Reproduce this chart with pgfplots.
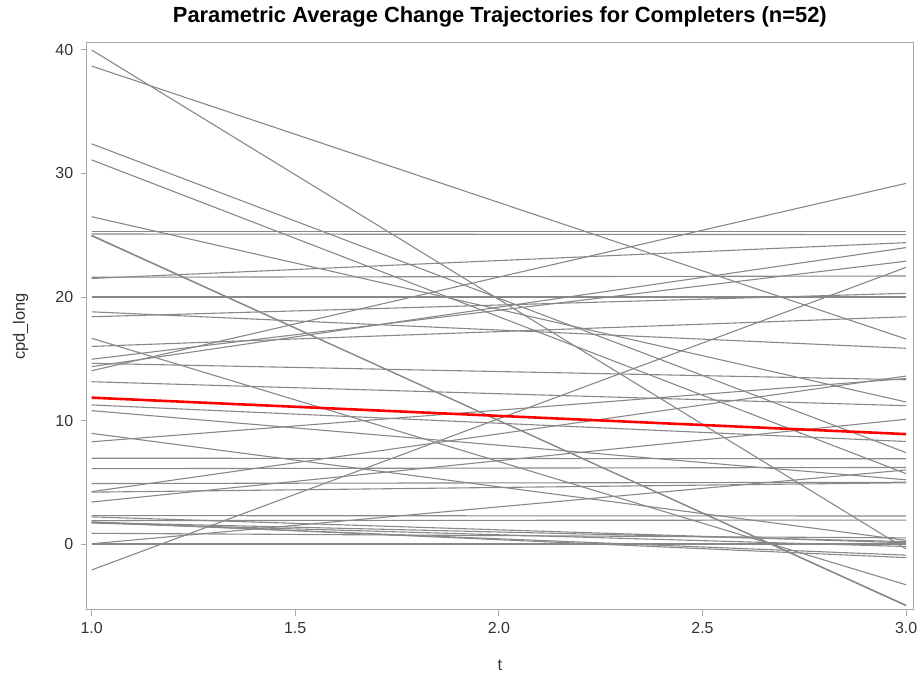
\documentclass[border=0pt]{standalone}
\usepackage{fontspec}
\setmainfont{Liberation Sans}
\usepackage{pgfplots}
\pgfplotsset{compat=1.18}
\definecolor{Traj}{HTML}{888888}
\definecolor{Frame}{HTML}{A8A8A8}
\definecolor{Mean}{HTML}{FF0000}
\definecolor{Ink}{HTML}{333333}
\pgfplotsset{traj/.style={Traj,line width=1.1bp,no marks}}
\begin{document}
\begin{tikzpicture}[x=1bp,y=1bp]
\useasboundingbox (0,0) rectangle (922,683);
\begin{axis}[at={(86.7bp,73bp)},anchor=south west,scale only axis,width=826.3bp,height=567.3bp,
  xmin=0.988,xmax=3.017,ymin=-5.34,ymax=40.59,
  xtick={1,1.5,2,2.5,3},xticklabels={1.0,1.5,2.0,2.5,3.0},
  ytick={0,10,20,30,40},
  /pgf/number format/assume math mode=true,
  tick align=outside,major tick length=6bp,tick pos=left,
  axis line style={Frame,line width=1bp},every tick/.style={Frame,line width=1bp},
  tick label style={font=\fontsize{16}{19}\selectfont,text=Ink},
  yticklabel style={xshift=-4bp},
  xticklabel style={yshift=-3bp},
  xlabel={t},ylabel={cpd\_long},
  label style={font=\fontsize{16.5}{20}\selectfont,text=Ink},
  xlabel style={at={(axis description cs:0.5,-0.1075)},anchor=base},
  ylabel style={at={(axis description cs:-0.0747,0.5)},anchor=base,rotate=0},
  title={Parametric Average Change Trajectories for Completers (n=52)},
  title style={font=\bfseries\fontsize{22}{26}\selectfont,at={(axis description cs:0.5,1.0259)},anchor=base},
  clip=true]
\addplot[traj] coordinates {(1,40.0) (3,-0.4)};
\addplot[traj] coordinates {(1,38.7) (3,16.6)};
\addplot[traj] coordinates {(1,32.4) (3,7.4)};
\addplot[traj] coordinates {(1,31.1) (3,5.7)};
\addplot[traj] coordinates {(1,26.5) (3,11.5)};
\addplot[traj] coordinates {(1,25.3) (3,25.3)};
\addplot[traj] coordinates {(1,25.1) (3,25.05)};
\addplot[traj] coordinates {(1,25.0) (3,-5.0)};
\addplot[traj] coordinates {(1,24.95) (3,-4.95)};
\addplot[traj] coordinates {(1,21.6) (3,21.7)};
\addplot[traj] coordinates {(1,21.5) (3,24.4)};
\addplot[traj] coordinates {(1,20.0) (3,20.0)};
\addplot[traj] coordinates {(1,18.8) (3,15.85)};
\addplot[traj] coordinates {(1,18.4) (3,20.3)};
\addplot[traj] coordinates {(1,16.66) (3,-3.3)};
\addplot[traj] coordinates {(1,16.0) (3,18.4)};
\addplot[traj] coordinates {(1,14.96) (3,22.9)};
\addplot[traj] coordinates {(1,14.63) (3,13.3)};
\addplot[traj] coordinates {(1,14.36) (3,24.0)};
\addplot[traj] coordinates {(1,14.03) (3,29.2)};
\addplot[traj] coordinates {(1,13.14) (3,11.2)};
\addplot[traj] coordinates {(1,11.26) (3,8.3)};
\addplot[traj] coordinates {(1,10.8) (3,5.2)};
\addplot[traj] coordinates {(1,8.96) (3,0.3)};
\addplot[traj] coordinates {(1,8.28) (3,13.4)};
\addplot[traj] coordinates {(1,6.9) (3,6.9)};
\addplot[traj] coordinates {(1,6.95) (3,6.9)};
\addplot[traj] coordinates {(1,6.1) (3,6.2)};
\addplot[traj] coordinates {(1,4.9) (3,5.0)};
\addplot[traj] coordinates {(1,4.24) (3,13.6)};
\addplot[traj] coordinates {(1,4.2) (3,4.96)};
\addplot[traj] coordinates {(1,3.4) (3,10.1)};
\addplot[traj] coordinates {(1,2.3) (3,2.27)};
\addplot[traj] coordinates {(1,1.9) (3,1.94)};
\addplot[traj] coordinates {(1,1.75) (3,0.2)};
\addplot[traj] coordinates {(1,1.7) (3,-0.2)};
\addplot[traj] coordinates {(1,1.75) (3,-0.9)};
\addplot[traj] coordinates {(1,1.8) (3,-1.1)};
\addplot[traj] coordinates {(1,2.2) (3,0.1)};
\addplot[traj] coordinates {(1,0.87) (3,0.5)};
\addplot[traj] coordinates {(1,0.0) (3,0.0)};
\addplot[traj] coordinates {(1,0.02) (3,6.0)};
\addplot[traj] coordinates {(1,-2.1) (3,22.4)};
\addplot[Mean,line width=2.6bp,no marks] coordinates {(1,11.85) (3,8.9)};
\end{axis}
\end{tikzpicture}
\end{document}
